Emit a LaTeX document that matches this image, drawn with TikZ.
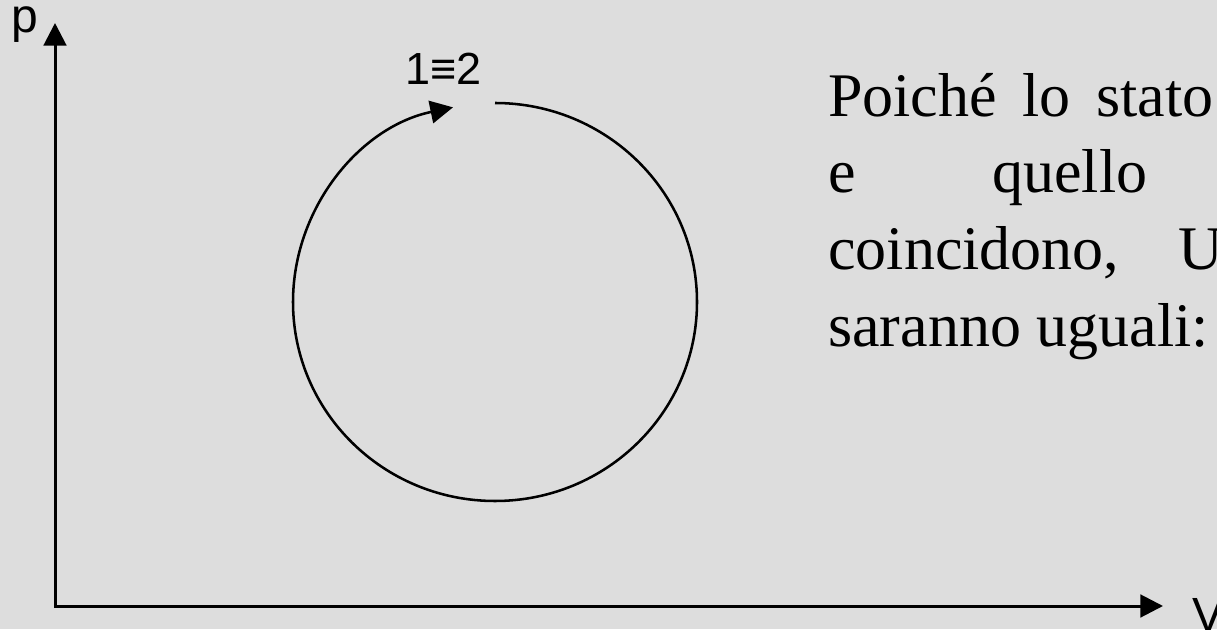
\documentclass[tikz,border=0pt]{standalone}
\usepackage{fontspec}
\setmainfont{Liberation Serif}
\newfontfamily\labelfont{Liberation Sans}
\usetikzlibrary{arrows.meta}
\usepackage{xcolor}
\definecolor{slidebg}{RGB}{221,221,221}

\begin{document}
\begin{tikzpicture}[x=0.75pt,y=0.75pt,>={Triangle[length=17pt,width=17pt]},
  axislabel/.style={inner sep=0pt,anchor=base west,font=\labelfont\fontsize{36}{40}\selectfont},
  bodytext/.style={inner sep=0pt,anchor=base west,font=\fontsize{46.5}{56}\selectfont}]
\fill[slidebg] (0,0) rectangle (1217,629);
\useasboundingbox (0,0) rectangle (1217,629);
% assi p-V
\coordinate (O) at (55,23);
\coordinate (ptip) at (55,606);
\coordinate (Vtip) at (1163,23);
\draw[line width=2.25pt,<->] (ptip) -- (O) -- (Vtip);
\node[axislabel] (p) at (11,596) {p};
\node[axislabel] (V) at (1192,-2) {V};
% ciclo
\coordinate (C) at (495,327);
\draw[line width=1.9pt,->] ([shift={(90:202 and 199)}]C) arc[start angle=90,end angle=-258,x radius=202,y radius=199];
\node[axislabel,font=\labelfont\fontsize{33.75}{38}\selectfont] (stato) at (405,544) {1≡2};
% testo
\node[bodytext] (riga1) at (828,512) {\makebox[288.75pt][s]{Poiché lo stato}};
\node[bodytext] (riga2) at (828,436) {\makebox[239.25pt][s]{e quello}};
\node[bodytext] (riga3) at (828,359) {\makebox[296.25pt][s]{coincidono, U}};
\node[bodytext] (riga4) at (828,282) {saranno uguali:};
\end{tikzpicture}
\end{document}
